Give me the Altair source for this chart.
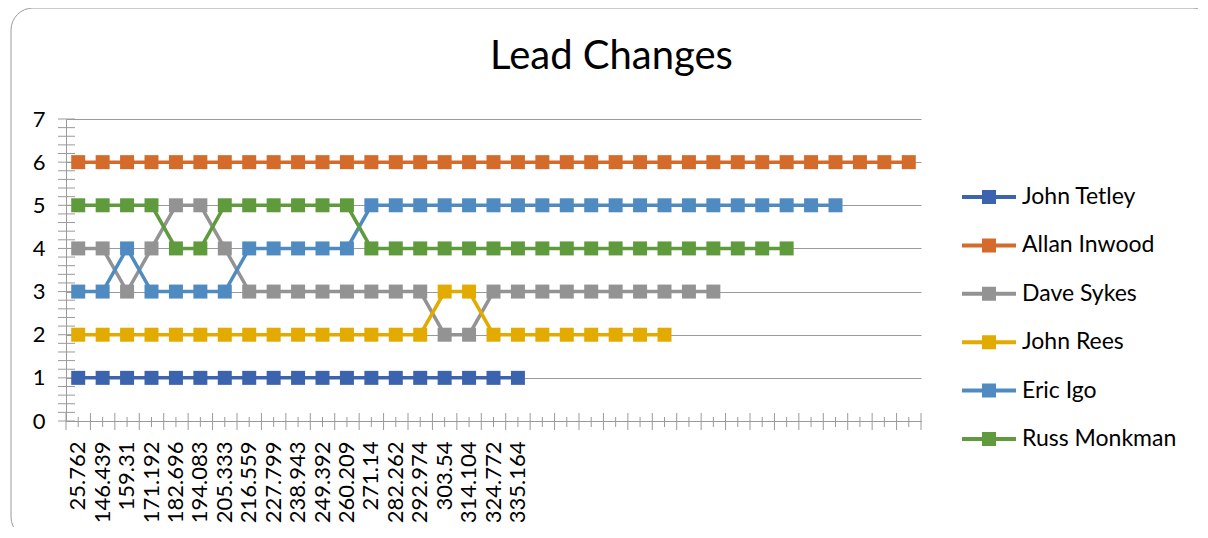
import json
import altair as alt
import numpy as np
import pandas as pd

# ---------------- data ----------------
x_labels = ["25.762", "146.439", "159.31", "171.192", "182.696", "194.083",
            "205.333", "216.559", "227.799", "238.943", "249.392", "260.209",
            "271.14", "282.262", "292.974", "303.54", "314.104", "324.772",
            "335.164"]
n_categories = 35

series_names = ["John Tetley", "Allan Inwood", "Dave Sykes", "John Rees",
                "Eric Igo", "Russ Monkman"]
series_colors = ["#3C63AD", "#D46B2A", "#939393", "#E3AA00", "#4F8BC1", "#5F9B3D"]

john_tetley = [1, 1, 1, 1, 1, 1, 1, 1, 1, 1, 1, 1, 1, 1, 1, 1, 1, 1, 1]
allan_inwood = [6, 6, 6, 6, 6, 6, 6, 6, 6, 6, 6, 6, 6, 6, 6, 6, 6, 6, 6, 6,
                6, 6, 6, 6, 6, 6, 6, 6, 6, 6, 6, 6, 6, 6, 6]
dave_sykes = [4, 4, 3, 4, 5, 5, 4, 3, 3, 3, 3, 3, 3, 3, 3, 2, 2, 3, 3, 3,
              3, 3, 3, 3, 3, 3, 3]
john_rees = [2, 2, 2, 2, 2, 2, 2, 2, 2, 2, 2, 2, 2, 2, 2, 3, 3, 2, 2, 2,
             2, 2, 2, 2, 2]
eric_igo = [3, 3, 4, 3, 3, 3, 3, 4, 4, 4, 4, 4, 5, 5, 5, 5, 5, 5, 5, 5,
            5, 5, 5, 5, 5, 5, 5, 5, 5, 5, 5, 5]
russ_monkman = [5, 5, 5, 5, 4, 4, 5, 5, 5, 5, 5, 5, 4, 4, 4, 4, 4, 4, 4, 4,
                4, 4, 4, 4, 4, 4, 4, 4, 4, 4]

series_values = [john_tetley, allan_inwood, dave_sykes, john_rees, eric_igo, russ_monkman]

rows = []
for name, vals in zip(series_names, series_values):
    for i, v in enumerate(vals):
        rows.append({"idx": i, "name": name, "line_key": "line " + name, "value": v})
df = pd.DataFrame(rows)
line_keys = ["line " + n for n in series_names]

cat_df = pd.DataFrame({"idx": list(range(n_categories))})
ytick_df = pd.DataFrame({"value": np.round(np.arange(0, 7.001, 0.2), 1)})
frame_df = pd.DataFrame({"k": [0]})

# ---------------- style ----------------
FONT = "Lato"
AXIS_COLOR = "#9a9a9a"
PLOT_W, PLOT_H = 855, 302

label_expr = json.dumps(x_labels) + "[datum.value] || ''"

x_scale = alt.Scale(type="band", paddingInner=0, paddingOuter=0,
                    domain=list(range(n_categories)))
x_axis = alt.Axis(labelExpr=label_expr, labelAngle=-90, labelFont=FONT,
                  labelFontSize=22, labelColor="#000000", labelPadding=20,
                  labelOverlap=False, ticks=False, tickSize=0, domain=True,
                  domainColor=AXIS_COLOR, domainWidth=1, grid=False)
y_scale = alt.Scale(domain=[0, 7], nice=False, zero=True)
y_axis = alt.Axis(values=[0, 1, 2, 3, 4, 5, 6, 7], format="d", labelFont=FONT,
                  labelFontSize=22, labelColor="#000000", labelPadding=21,
                  ticks=False, tickSize=0, domain=True, domainColor=AXIS_COLOR,
                  domainWidth=1, grid=True, gridColor=AXIS_COLOR, gridWidth=1)


def X(**kw):
    return alt.X("idx:O", scale=x_scale, axis=x_axis, title=None, **kw)


def Y():
    return alt.Y("value:Q", scale=y_scale, axis=y_axis, title=None)


legend_path = ("M-1.5,-0.111H1.5V0.111H-1.5Z "
               "M-0.389,-0.389H0.389V0.389H-0.389Z")
legend = alt.Legend(
    title=None, orient="none", legendX=905, legendY=60, padding=0,
    symbolType=legend_path, symbolSize=1296, symbolStrokeWidth=0,
    symbolOpacity=1, labelFont=FONT, labelFontSize=23, labelColor="#000000",
    labelOffset=15, rowPadding=18.4,
)

# ---------------- layers ----------------
frame = alt.Chart(frame_df).mark_rect(
    fillOpacity=0, stroke=AXIS_COLOR, strokeWidth=1, cornerRadius=22
).encode(x=alt.value(-55), x2=alt.value(1149), y=alt.value(-111), y2=alt.value(420))

ytick = alt.Chart(ytick_df).mark_rule(color=AXIS_COLOR, strokeWidth=1).encode(
    y=Y(), x=alt.value(-8), x2=alt.value(9))

xtick_start = alt.Chart(cat_df).mark_rule(color=AXIS_COLOR, strokeWidth=1).encode(
    x=X(bandPosition=0), y=alt.value(PLOT_H - 8), y2=alt.value(PLOT_H + 9))
xtick_mid = alt.Chart(cat_df).mark_rule(color=AXIS_COLOR, strokeWidth=1).encode(
    x=X(bandPosition=0.5), y=alt.value(PLOT_H - 4), y2=alt.value(PLOT_H + 6))
xtick_last = alt.Chart(frame_df).mark_rule(color=AXIS_COLOR, strokeWidth=1).encode(
    x=alt.value(PLOT_W), y=alt.value(PLOT_H - 8), y2=alt.value(PLOT_H + 9))

lines = alt.Chart(df).mark_line(strokeWidth=3.5).encode(
    x=X(), y=Y(),
    stroke=alt.Stroke("line_key:N", scale=alt.Scale(domain=line_keys, range=series_colors),
                      legend=None))
points = alt.Chart(df).mark_point(shape="square", filled=True, size=196, opacity=1).encode(
    x=X(), y=Y(),
    color=alt.Color("name:N", scale=alt.Scale(domain=series_names, range=series_colors),
                    legend=legend, sort=series_names))

chart = alt.layer(frame, ytick, xtick_start, xtick_mid, xtick_last, lines, points).properties(
    width=PLOT_W,
    height=PLOT_H,
    background="white",
    title=alt.TitleParams("Lead Changes", font=FONT, fontSize=40, fontWeight="normal",
                          color="#000000", anchor="middle", baseline="alphabetic",
                          offset=-101.5, dx=118),
    autosize=alt.AutoSizeParams(type="none"),
    padding={"left": 58, "top": 111, "right": 277, "bottom": 106},
).configure_view(strokeWidth=0, stroke="transparent")

chart.save("out.html", embed_options={"renderer": "svg", "actions": False})
